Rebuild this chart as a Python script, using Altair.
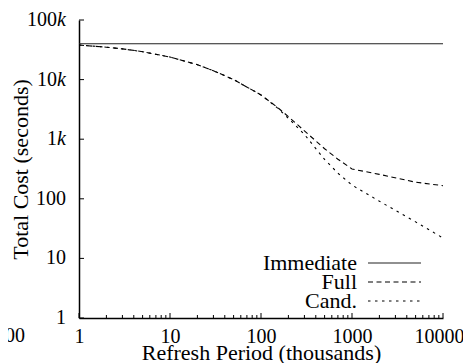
import altair as alt
import pandas as pd

# ---- data ----
period = [1, 2, 3, 5, 10, 20, 30, 50, 100, 150, 200, 300, 500, 700, 1000, 2000, 5000, 10000]
full_cost = [38000, 35000, 32800, 29400, 23900, 17800, 14100, 10000, 5530, 3470, 2390, 1380, 692, 462, 316, 257, 190, 166]
cand_cost = [38000, 35000, 32800, 29400, 23900, 17800, 14100, 10000, 5530, 3390, 2240, 1200, 457, 269, 170, 91, 41, 22]
immediate_period = [1, 10000]
immediate_cost = [40000, 40000]

series_names = ["Immediate", "Full", "Cand."]
x_ticks = [1, 10, 100, 1000, 10000]
x_minor = [m * 10 ** k for k in range(4) for m in range(2, 10)]
y_ticks = [1, 10, 100, 1000, 10000, 100000]
y_labels = ["1", "10", "100", "1k", "10k", "100k"]

FONT = "Liberation Serif"
W, H = 364, 298
LABEL_GAP = 13   # gap between y labels and the axis
K_WIDTH = 9      # width of the italic k

rows = []
for p, c in zip(immediate_period, immediate_cost):
    rows.append({"period": p, "cost": c, "series": "Immediate"})
for p, c in zip(period, full_cost):
    rows.append({"period": p, "cost": c, "series": "Full"})
for p, c in zip(period, cand_cost):
    rows.append({"period": p, "cost": c, "series": "Cand."})
df = pd.DataFrame(rows)

ylab = pd.DataFrame({
    "v": y_ticks,
    "num": [s.rstrip("k") for s in y_labels],
    "k": [s.endswith("k") for s in y_labels],
})


def xs():
    return alt.Scale(type="log", domain=[1, 10000], nice=False)


def ys():
    return alt.Scale(type="log", domain=[1, 100000], nice=False)


dash_scale = alt.Scale(domain=series_names, range=[[1, 0], [5, 3.5], [2.5, 4.5]])
color_scale = alt.Scale(domain=series_names, range=["#222222", "#000000", "#000000"])

lines = alt.Chart(df).mark_line(strokeWidth=1.1).encode(
    x=alt.X("period:Q", scale=xs(),
            axis=alt.Axis(values=x_ticks, format="d", title="Refresh Period (thousands)",
                          labelFlush=False, labelBaseline="alphabetic", labelPadding=24,
                          labelOffset={"condition": {"test": "datum.value == 10000", "value": -4}, "value": 0},
                          titleY=41, titleBaseline="alphabetic")),
    y=alt.Y("cost:Q", scale=ys(),
            axis=alt.Axis(values=y_ticks, labels=False, title="Total Cost (seconds)",
                          titleX=-52, titleY=H / 2, titleBaseline="alphabetic", titleAngle=270)),
    strokeDash=alt.StrokeDash("series:N", scale=dash_scale, legend=None),
    color=alt.Color("series:N", scale=color_scale, legend=None),
    detail="series:N",
)

# y tick labels: number part upright, "k" in italics
ynum_plain = alt.Chart(ylab).transform_filter("!datum.k").mark_text(
    align="right", baseline="middle", font=FONT, fontSize=20, color="black").encode(
    y=alt.Y("v:Q", scale=ys(), axis=None), x=alt.value(-LABEL_GAP), text="num:N")
ynum_k = alt.Chart(ylab).transform_filter("datum.k").mark_text(
    align="right", baseline="middle", font=FONT, fontSize=20, color="black").encode(
    y=alt.Y("v:Q", scale=ys(), axis=None), x=alt.value(-LABEL_GAP - K_WIDTH), text="num:N")
y_k = alt.Chart(ylab).transform_filter("datum.k").transform_calculate(kk="'k'").mark_text(
    align="right", baseline="middle", font=FONT, fontSize=20, fontStyle="italic", color="black").encode(
    y=alt.Y("v:Q", scale=ys(), axis=None), x=alt.value(-LABEL_GAP), text="kk:N")

xt = pd.DataFrame({"t": x_ticks})
xm = pd.DataFrame({"t": x_minor})
yt = pd.DataFrame({"t": y_ticks})

x_major_ticks = alt.Chart(xt).mark_rule(color="black", strokeWidth=1).encode(
    x=alt.X("t:Q", scale=xs()), y=alt.value(H), y2=alt.value(H - 5))
x_minor_ticks = alt.Chart(xm).mark_rule(color="black", strokeWidth=1).encode(
    x=alt.X("t:Q", scale=xs()), y=alt.value(H), y2=alt.value(H - 3))
y_major_ticks = alt.Chart(yt).mark_rule(color="black", strokeWidth=1).encode(
    y=alt.Y("t:Q", scale=ys(), axis=None), x=alt.value(0), x2=alt.value(5))

leg = pd.DataFrame({"series": series_names})
leg_y = alt.Y("series:N", scale=alt.Scale(type="point", domain=series_names, range=[243, 281], padding=0), axis=None)
legend_lines = alt.Chart(leg).mark_rule(strokeWidth=1.1).encode(
    y=leg_y, x=alt.value(289), x2=alt.value(342),
    strokeDash=alt.StrokeDash("series:N", scale=dash_scale, legend=None),
    color=alt.Color("series:N", scale=color_scale, legend=None),
)
legend_text = alt.Chart(leg).mark_text(align="right", baseline="alphabetic", dy=7,
                                       font=FONT, fontSize=22, color="black").encode(
    y=leg_y, x=alt.value(278), text="series:N")

stray = alt.Chart(pd.DataFrame({"t": ["10000"]})).mark_text(
    align="right", baseline="alphabetic", font=FONT, fontSize=20, color="black").encode(
    text="t:N", x=alt.value(-54), y=alt.value(H + 24))

chart = alt.layer(
    lines, x_major_ticks, x_minor_ticks, y_major_ticks, ynum_plain, ynum_k, y_k,
    legend_lines, legend_text, stray
).resolve_scale(y="independent").properties(
    width=W, height=H,
    padding={"left": 71, "top": 12, "right": 20, "bottom": 45},
    autosize=alt.AutoSizeParams(type="none"),
).configure(font=FONT).configure_view(stroke=None).configure_axis(
    domainColor="black", domainWidth=1.5, ticks=False, grid=False,
    labelFont=FONT, labelFontSize=20, labelColor="black",
    titleFont=FONT, titleFontSize=22, titleFontWeight="normal", titleColor="black",
)

chart.save("out.html", embed_options={"renderer": "svg", "actions": False})
